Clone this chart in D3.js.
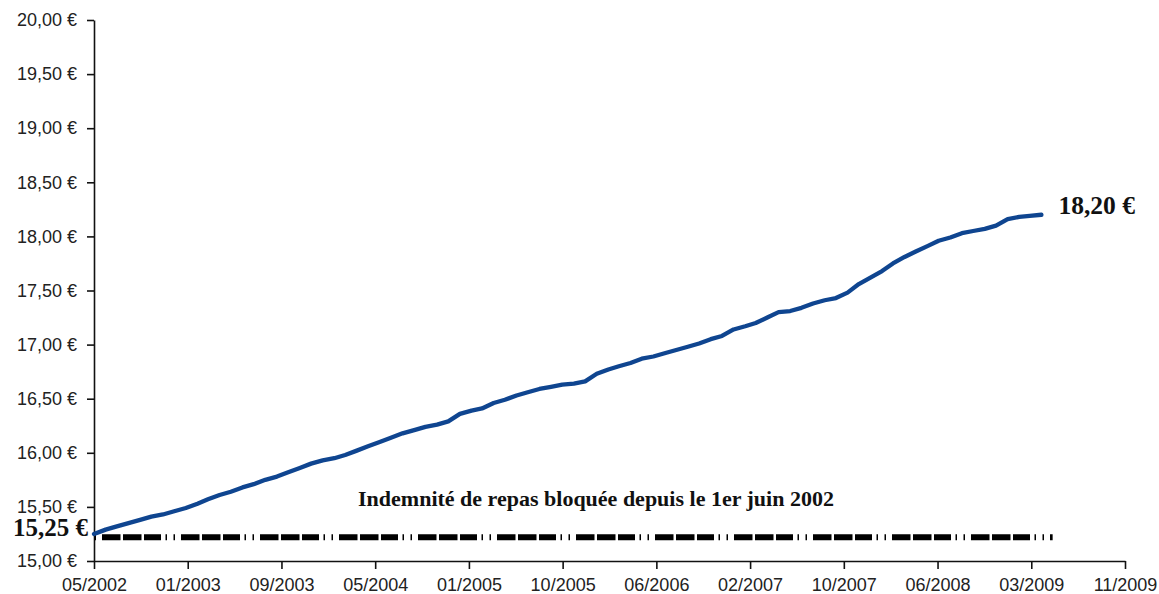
<!DOCTYPE html>
<html>
<head>
<meta charset="utf-8">
<script src="https://cdn.jsdelivr.net/npm/d3@7"></script>
<style>
  body { margin: 0; background: #fff; }
  .tick text { font-family: "Liberation Sans", Arial, sans-serif; font-size: 18px; fill: #222; }
  .lbl { font-family: "Liberation Serif", "Times New Roman", serif; font-weight: bold; fill: #111; }
</style>
</head>
<body>
<div id="chart"></div>
<script>
// monthly values, 05/2002 -> 04/2009
var startMonth = "2002-05";
var mealCost = [
  15.25, 15.29, 15.32, 15.35, 15.38, 15.41, 15.43, 15.46, 15.49, 15.53, 15.57, 15.61,
  15.64, 15.68, 15.71, 15.75, 15.78, 15.82, 15.86, 15.90, 15.93, 15.95, 15.98, 16.02,
  16.06, 16.10, 16.14, 16.18, 16.21, 16.24, 16.26, 16.29, 16.36, 16.39, 16.41, 16.46,
  16.49, 16.53, 16.56, 16.59, 16.61, 16.63, 16.64, 16.66, 16.73, 16.77, 16.80, 16.83,
  16.87, 16.89, 16.92, 16.95, 16.98, 17.01, 17.05, 17.08, 17.14, 17.17, 17.20, 17.25,
  17.30, 17.31, 17.34, 17.38, 17.41, 17.43, 17.48, 17.56, 17.62, 17.68, 17.75, 17.81,
  17.86, 17.91, 17.96, 17.99, 18.03, 18.05, 18.07, 18.10, 18.16, 18.18, 18.19, 18.20
];
// indemnity frozen since june 2002 (drawn one month further than the cost line)
var blockedValue = 15.22;
var blockedMonths = 85;

var xTickLabels = ["05/2002", "01/2003", "09/2003", "05/2004", "01/2005", "10/2005",
                   "06/2006", "02/2007", "10/2007", "06/2008", "03/2009", "11/2009"];
var tickStepDays = 250;
var yTicks = [15, 15.5, 16, 16.5, 17, 17.5, 18, 18.5, 19, 19.5, 20];

var firstLabel = "15,25 €";
var lastLabel = "18,20 €";
var note = "Indemnité de repas bloquée depuis le 1er juin 2002";

var width = 1159, height = 594;
var margin = {top: 20, right: 34, bottom: 33, left: 94};

var svg = d3.select("#chart").append("svg")
    .attr("width", width)
    .attr("height", height);

var t0 = d3.utcParse("%Y-%m")(startMonth);
var data = mealCost.map((v, i) => ({date: d3.utcMonth.offset(t0, i), value: v}));
var blocked = d3.range(blockedMonths).map(i => ({date: d3.utcMonth.offset(t0, i), value: blockedValue}));
var xTicks = xTickLabels.map((d, i) => d3.utcDay.offset(t0, i * tickStepDays));

var x = d3.scaleUtc()
    .domain([xTicks[0], xTicks[xTicks.length - 1]])
    .range([margin.left, width - margin.right]);
var y = d3.scaleLinear()
    .domain([15, 20])
    .range([height - margin.bottom, margin.top]);

var fmtEuro = d => d.toFixed(2).replace(".", ",") + " €";

var xAxis = svg.append("g")
    .attr("transform", `translate(0,${height - margin.bottom})`)
    .call(d3.axisBottom(x).tickValues(xTicks)
        .tickFormat((d, i) => xTickLabels[i])
        .tickSize(8).tickSizeOuter(0).tickPadding(9));

var yAxis = svg.append("g")
    .attr("transform", `translate(${margin.left},0)`)
    .call(d3.axisLeft(y).tickValues(yTicks).tickFormat(fmtEuro)
        .tickSize(7).tickSizeOuter(0).tickPadding(10));

svg.selectAll(".domain, .tick line").attr("stroke", "#111").attr("stroke-width", 1.6);

// frozen indemnity line
svg.append("path")
    .datum(blocked)
    .attr("fill", "none")
    .attr("stroke", "#000")
    .attr("stroke-width", 6)
    .attr("stroke-dasharray", "18.5 2.5 18.5 2.5 17 4.5 1.5 6.5 1.5 6")
    .attr("stroke-dashoffset", 71)
    .attr("d", d3.line().x(d => x(d.date)).y(d => y(d.value)));

// meal cost line
svg.append("path")
    .datum(data)
    .attr("fill", "none")
    .attr("stroke", "#0f4590")
    .attr("stroke-width", 4.3)
    .attr("stroke-linejoin", "round")
    .attr("stroke-linecap", "round")
    .attr("d", d3.line().x(d => x(d.date)).y(d => y(d.value)));

var last = data[data.length - 1];
svg.append("text").attr("class", "lbl")
    .attr("x", x(last.date) + 17)
    .attr("y", y(last.value) - 1)
    .attr("font-size", 25.5)
    .text(lastLabel);

svg.append("text").attr("class", "lbl")
    .attr("x", margin.left - 6)
    .attr("y", y(data[0].value) + 2)
    .attr("text-anchor", "end")
    .attr("font-size", 25)
    .text(firstLabel);

svg.append("text").attr("class", "lbl")
    .attr("x", 596)
    .attr("y", 506)
    .attr("text-anchor", "middle")
    .attr("font-size", 22)
    .text(note);
</script>
</body>
</html>
